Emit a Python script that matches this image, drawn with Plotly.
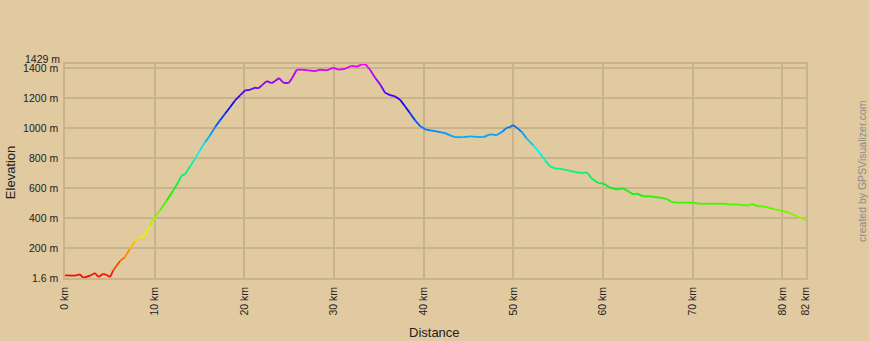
import colorsys
import plotly.graph_objects as go

# ---- data ----
dist_km = [0, 1.12, 1.67, 2.04, 2.79, 3.35, 3.72, 4.27, 4.65, 5.02,
           5.39, 6.14, 6.69, 7.25, 7.81, 8.37, 8.93, 9.48, 10.04, 10.60,
           11.35, 12.08, 12.64, 13.02, 13.39, 13.95, 14.50, 15.06, 15.62, 16.18,
           16.74, 17.29, 17.85, 18.41, 18.97, 19.53, 20.08, 20.64, 21.20, 21.57,
           21.95, 22.50, 23.06, 23.43, 23.88, 24.36, 24.92, 25.29, 25.85, 26.41,
           27.15, 27.89, 28.45, 29.20, 29.94, 30.49, 31.24, 31.99, 32.55, 33.10,
           33.47, 34.03, 34.59, 35.15, 35.70, 36.26, 36.82, 37.38, 37.94, 38.49,
           39.05, 39.61, 40.17, 40.72, 41.28, 41.84, 42.40, 42.96, 43.51, 44.44,
           45.19, 45.94, 46.67, 47.42, 48.17, 48.72, 49.28, 49.65, 49.95, 50.40,
           50.96, 51.51, 52.25, 53.00, 53.56, 54.11, 54.67, 55.42, 56.16, 56.90,
           57.65, 58.21, 58.77, 59.50, 60.06, 60.81, 61.55, 62.29, 62.85, 63.41,
           63.79, 64.52, 65.27, 65.83, 66.39, 67.13, 67.69, 68.43, 69.37, 70.10,
           70.66, 71.97, 73.64, 74.20, 74.95, 75.68, 76.24, 76.62, 77.36, 77.92,
           78.47, 79.22, 79.97, 80.70, 81.26, 81.82, 82.38, 82.65]

elevation_m = [19, 17, 26, 2, 17, 35, 8, 30, 21, 8,
               53, 115, 141, 197, 248, 268, 286, 353, 408, 453,
               519, 586, 641, 686, 693, 746, 797, 853, 908, 953,
               1008, 1053, 1097, 1141, 1186, 1219, 1253, 1257, 1271, 1266,
               1286, 1315, 1301, 1315, 1335, 1304, 1301, 1331, 1391, 1391,
               1386, 1381, 1391, 1386, 1404, 1391, 1397, 1417, 1412, 1426,
               1429, 1391, 1337, 1293, 1237, 1221, 1213, 1191, 1146, 1101,
               1053, 1015, 993, 986, 981, 975, 968, 953, 941, 941,
               946, 943, 941, 959, 955, 975, 1004, 1008, 1022, 1004,
               975, 931, 886, 831, 786, 746, 733, 728, 719, 708,
               701, 706, 664, 635, 631, 604, 593, 599, 579, 559,
               564, 546, 546, 541, 537, 528, 508, 504, 504, 504,
               497, 497, 497, 491, 493, 486, 486, 495, 479, 479,
               471, 459, 450, 437, 424, 408, 395, 385]

y_tickvals = [1.6, 200, 400, 600, 800, 1000, 1200, 1400]
y_ticktext = ["1.6 m", "200 m", "400 m", "600 m", "800 m", "1000 m", "1200 m", "1400 m"]
y_min, y_max = 1.6, 1429
y_max_label = "1429 m"

x_tickvals = [0, 10, 20, 30, 40, 50, 60, 70, 80, 82.65]
x_ticktext = ["0 km", "10 km", "20 km", "30 km", "40 km", "50 km", "60 km",
              "70 km", "80 km", "82 km"]

BG = "#E1C9A0"
GRID = "#C8B38D"
FONT = "Liberation Sans, Arial, sans-serif"


def elev_color(e):
    h = max(0.0, min(1.0, (e - y_min) / (y_max - y_min))) * 300.0 / 360.0
    r, g, b = colorsys.hsv_to_rgb(h, 1.0, 0.97)
    return "rgb(%d,%d,%d)" % (r * 255, g * 255, b * 255)


fig = go.Figure()
for i in range(len(dist_km) - 1):
    mid = (elevation_m[i] + elevation_m[i + 1]) / 2.0
    fig.add_trace(go.Scatter(
        x=[dist_km[i], dist_km[i + 1]],
        y=[elevation_m[i], elevation_m[i + 1]],
        mode="lines",
        line=dict(color=elev_color(mid), width=1.8),
        showlegend=False,
        hoverinfo="skip",
    ))

fig.update_layout(
    width=869, height=341,
    margin=dict(l=65, r=63, t=64, b=63),
    paper_bgcolor=BG, plot_bgcolor=BG,
    font=dict(family=FONT, size=11, color="#222222"),
    showlegend=False,
)

fig.update_xaxes(
    range=[0, 82.65], tickmode="array", tickvals=x_tickvals, ticktext=x_ticktext,
    tickangle=-90, tickfont=dict(size=10.5, color="#222222", family=FONT),
    showgrid=True, gridcolor=GRID, gridwidth=1.5,
    showline=True, linecolor=GRID, linewidth=1.5, mirror=True,
    zeroline=False, ticks="", ticklabelstandoff=3,
)
fig.update_yaxes(
    range=[y_min, y_max], tickmode="array", tickvals=y_tickvals, ticktext=y_ticktext,
    tickfont=dict(size=10.5, color="#222222", family=FONT),
    showgrid=True, gridcolor=GRID, gridwidth=1.5,
    showline=True, linecolor=GRID, linewidth=1.5, mirror=True,
    zeroline=False, ticks="", ticklabelstandoff=3,
)

fig.add_annotation(
    text=y_max_label, xref="paper", yref="y", x=0, y=y_max,
    xanchor="right", yanchor="middle", xshift=-3, yshift=5, showarrow=False,
    font=dict(size=10.5, color="#222222", family=FONT),
)
fig.add_annotation(
    text="Elevation", xref="paper", yref="paper", x=-0.0742, y=0.49,
    xanchor="center", yanchor="middle", textangle=-90, showarrow=False,
    font=dict(size=13, color="#222222", family=FONT),
)
fig.add_annotation(
    text="Distance", xref="paper", yref="paper", x=0.498, y=-0.255,
    xanchor="center", yanchor="middle", showarrow=False,
    font=dict(size=13, color="#222222", family=FONT),
)
fig.add_annotation(
    text="created by GPSVisualizer.com", xref="paper", yref="paper",
    x=1.0756, y=0.5, xanchor="center", yanchor="middle", textangle=-90,
    showarrow=False, font=dict(size=10.5, color="#8C8C8C", family=FONT),
)

fig.write_html(
    "out.html",
    config={"displayModeBar": False},
    post_script="document.body.style.margin='0';document.body.style.padding='0';"
                "document.body.style.background='" + BG + "';",
)
